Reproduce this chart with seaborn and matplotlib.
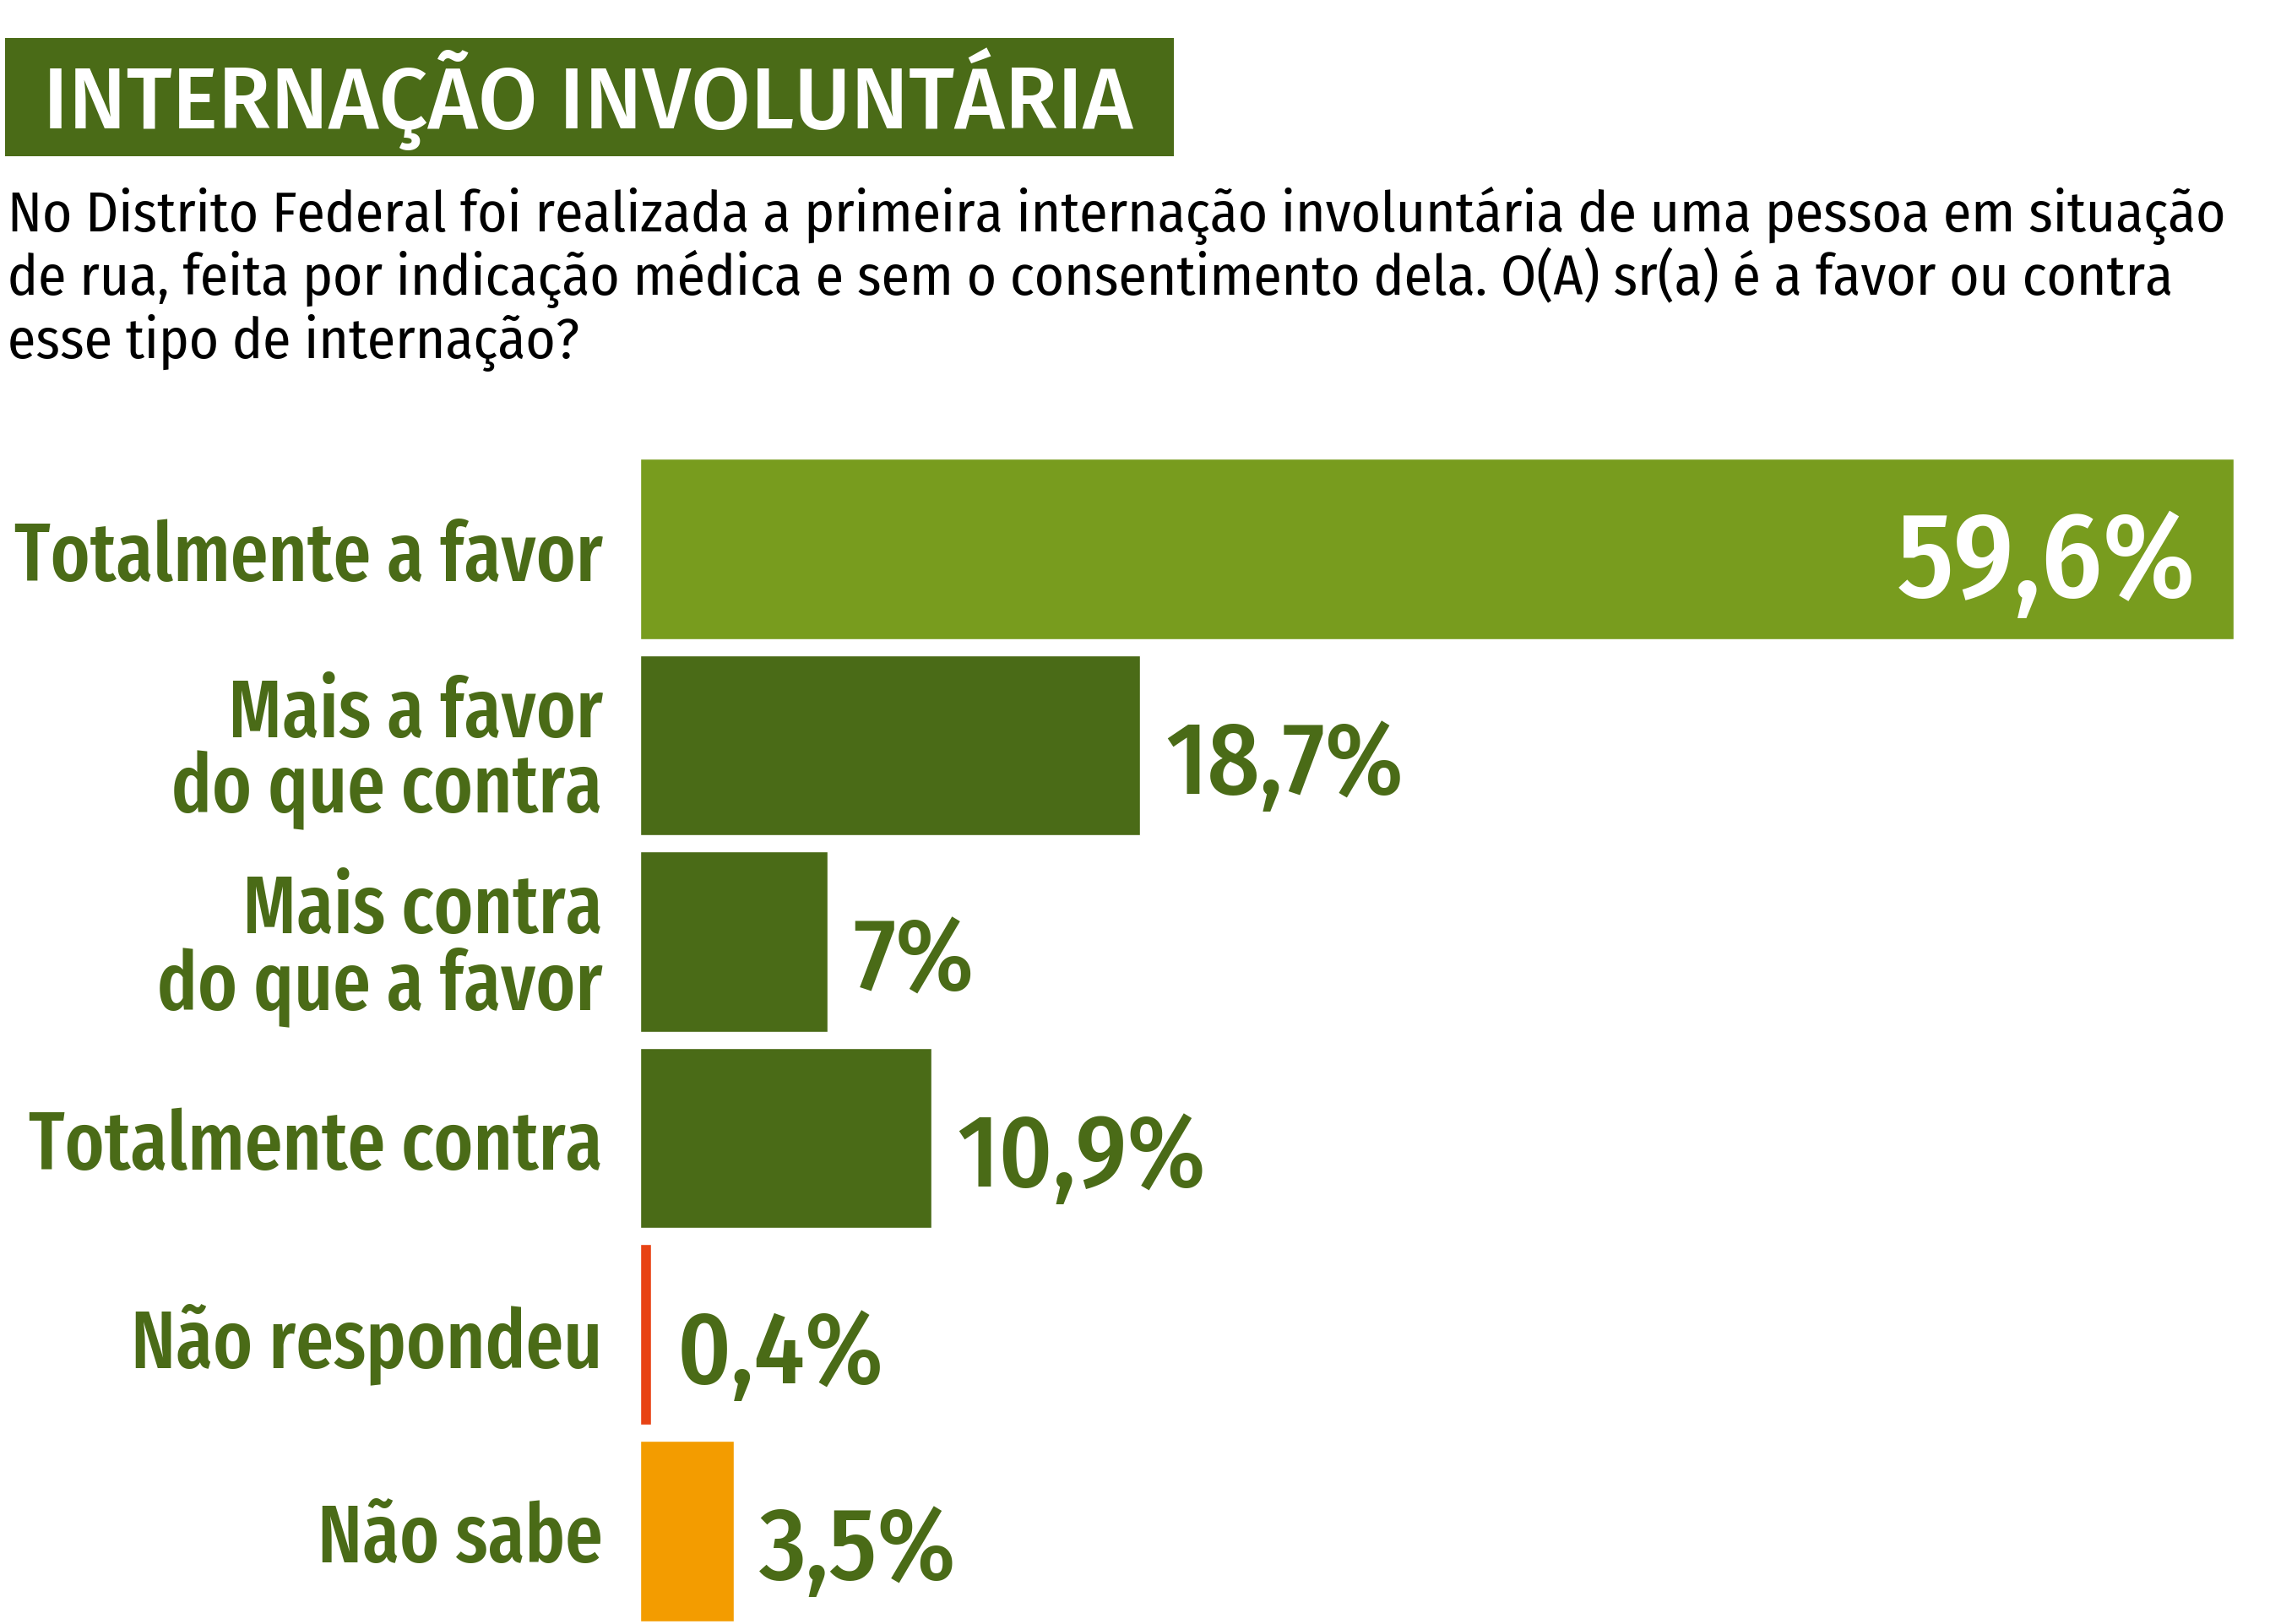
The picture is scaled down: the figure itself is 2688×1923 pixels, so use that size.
import matplotlib
matplotlib.use("Agg")
import matplotlib.pyplot as plt
import seaborn as sns
from matplotlib.patches import Rectangle
from matplotlib import font_manager as fm

# data
categories = ["Totalmente a favor", "Mais a favor\ndo que contra", "Mais contra\ndo que a favor",
              "Totalmente contra", "Não respondeu", "Não sabe"]
values = [59.6, 18.7, 7.0, 10.9, 0.4, 3.5]
value_labels = ["59,6%", "18,7%", "7%", "10,9%", "0,4%", "3,5%"]
bar_colors = ["#789c1e", "#4a6b17", "#4a6b17", "#4a6b17", "#e84314", "#f39c00"]

title = "INTERNAÇÃO INVOLUNTÁRIA"
question_lines = [
    "No Distrito Federal foi realizada a primeira internação involuntária de uma pessoa em situação",
    "de rua, feita por indicação médica e sem o consentimento dela. O(A) sr(a) é a favor ou contra",
    "esse tipo de internação?",
]

dark_green = "#4a6b17"

sns.set_theme(style="white")
plt.rcParams["font.family"] = ["Fira Sans Condensed", "DejaVu Sans"]

installed = {f.name for f in fm.fontManager.ttflist}
if "Fira Sans Extra Condensed" in installed:
    label_family, label_size = "Fira Sans Extra Condensed", 69.5
else:
    label_family, label_size = "Fira Sans Condensed", 64
title_family = "Fira Sans" if "Fira Sans" in installed else "Fira Sans Condensed"

W, H = 2688, 1924
fig = plt.figure(figsize=(W / 100, H / 100), dpi=100)

# title box
fig.patches.append(Rectangle((0.0022, 0.9033), 0.515, 0.0728, transform=fig.transFigure,
                             facecolor=dark_green, edgecolor="none"))
fig.text(51 / W, 1 - 152 / H, title, color="white", fontsize=73.5, fontweight=500,
         family=[title_family, "DejaVu Sans"], va="baseline", ha="left")

# question
for k, line in enumerate(question_lines):
    fig.text(9 / W, 1 - (274 + 75 * k) / H, line, color="black", fontsize=48.5,
             fontweight=400, va="baseline", ha="left")

# bars
ax = fig.add_axes([758 / W, 0.0, (2645 - 758) / W, 1 - 544 / H])
sns.barplot(x=values, y=categories, hue=categories, palette=bar_colors, legend=False,
            orient="h", width=0.92, saturation=1, ax=ax)
ax.set_xlim(0, 59.6)
ax.set_ylim(5.475, -0.46)
ax.set_xticks([])
ax.set_xlabel("")
ax.set_ylabel("")
sns.despine(ax=ax, left=True, bottom=True)
ax.tick_params(axis="y", length=0, pad=32)
for lab in ax.get_yticklabels():
    lab.set_family([label_family, "DejaVu Sans"])
    lab.set_fontsize(label_size)
    lab.set_fontweight(500)
    lab.set_color(dark_green)
    lab.set_linespacing(0.93)

for i, (v, txt) in enumerate(zip(values, value_labels)):
    if i == 0:
        ax.annotate(txt, (v, i), xytext=(-32, -40), textcoords="offset points",
                    ha="right", va="baseline", color="white", fontsize=103, fontweight=500)
    else:
        ax.annotate(txt, (v, i), xytext=(22, -41), textcoords="offset points",
                    ha="left", va="baseline", color=dark_green, fontsize=87, fontweight=500)

fig.savefig("out.png", dpi=100)
